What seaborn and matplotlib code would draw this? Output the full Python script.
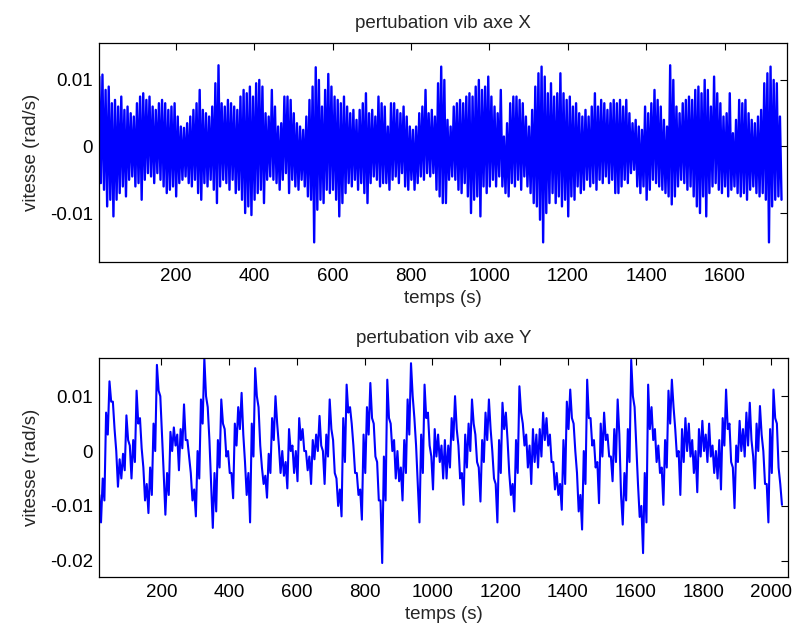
import numpy as np
import pandas as pd
import seaborn as sns
import matplotlib.pyplot as plt

# values, in mrad/s
# axe X : one peak (hi) then one trough (lo) every 8 s, starting at t = 5 s
t0_x, dt_x = 5, 8
vib_x_hi = [10.5, 10.8, 8.5, 9, 6.5, 7, 6, 7.5, 5.5, 6,
            5, 4.5, 6.5, 7.5, 8, 7, 7.5, 6, 5.5, 6.5,
            7, 6.5, 5.5, 6, 6.5, 4.5, 3, 2.8, 3.5, 4.5,
            5.5, 6.5, 8.5, 5.5, 5, 4.5, 6, 9.5, 12.2, 6.5,
            6, 7, 6.5, 6, 5.5, 7.5, 8.5, 8, 9, 7.5,
            9.5, 10, 9, 5, 4.5, 8.5, 6, 3, 3.5, 7.5,
            7.5, 7, 5, 3.5, 3, 2.5, 4.5, 7, 9, 11.9,
            10, 6, 8.5, 10.9, 9, 7.5, 7, 6.5, 7.5, 6,
            5, 5.5, 4, 5.5, 6.5, 8, 5, 5.5, 4.5, 7.5,
            6.5, 6, 3, 6.5, 6.5, 5.5, 5, 6, 4.5, 3,
            2.5, 3, 5, 6, 8.5, 5, 5.5, 4.5, 9.5, 12,
            10, 4, 3, 6, 6.5, 7, 6.5, 7.5, 8, 7.5,
            9, 10, 8.5, 9, 10.5, 7.5, 6, 5, 8.5, 1.5,
            3.5, 6.5, 7.5, 7.5, 7, 6.5, 4.5, 3, 5.5, 9,
            11, 12, 10.5, 8, 9.5, 7.5, 8, 11, 8, 7,
            7.5, 6, 6.5, 5, 4.5, 5.5, 4.5, 6, 8, 6,
            7, 6.5, 5.5, 6.5, 7, 6.5, 7, 6, 7, 5,
            3.5, 4, 3, 2.5, 6, 5, 6.5, 8.5, 7, 6,
            4, 3, 12.2, 10, 6, 5, 6.5, 7, 7.5, 7,
            8.5, 9, 8, 10, 8.5, 6, 10.5, 8, 6.5, 4.5,
            5, 8, 2, 4, 7, 6.5, 7, 5, 4, 3.5,
            4.5, 5.5, 9.5, 11, 12, 10, 9.5, 4.5]
vib_x_lo = [-5.5, -6.5, -9, -8, -10.5, -8, -7, -6, -7.5, -5,
            -4.5, -6, -5.5, -8, -5, -4, -4.5, -5.5, -4, -5,
            -6, -7, -6.5, -6, -7.5, -5.5, -5, -4.5, -5.5, -6,
            -5, -7, -8, -5.5, -6, -5, -6.5, -8.5, -6, -5,
            -5.5, -6.5, -5, -7, -6.5, -8, -10, -9, -10.3, -8,
            -7, -6.5, -8.5, -5, -4.5, -5, -5.5, -6.5, -5, -4,
            -7, -5, -6, -6.5, -5, -6, -7.5, -8, -14.4, -9.5,
            -8, -8.5, -6.5, -7, -6.5, -8, -10.5, -8.5, -7, -5.5,
            -6, -5, -6.5, -5.5, -7, -8.5, -5.5, -4.5, -5, -6,
            -5.5, -5.5, -6.5, -5, -4.5, -5.5, -4, -6, -6.5, -5,
            -6.5, -5.5, -4.5, -5, -4, -4.5, -4, -6.5, -7.5, -8.5,
            -8.5, -5, -4.5, -5, -6.5, -7, -5.5, -7.5, -10, -8,
            -7.5, -10.5, -6, -7, -6, -5, -6, -4.5, -6, -7,
            -7.5, -5.5, -6, -5, -6.5, -4.5, -6, -7, -8.5, -9,
            -11, -14.4, -10, -8.5, -7, -8.5, -7.5, -9, -8, -10.5,
            -7.5, -8, -6, -7, -6.5, -5, -6, -5.5, -6.5, -5,
            -5.5, -4.5, -5.5, -5, -7, -7, -6, -5, -5.5, -4,
            -3.5, -6, -7, -6, -8, -6.5, -5, -5.5, -6, -6.5,
            -7, -7.5, -8.7, -7.5, -6, -5, -5.5, -6.5, -6, -7.5,
            -9, -10, -7.5, -10.5, -7, -6, -5.5, -6.5, -7, -6,
            -7.5, -6.5, -6, -7, -7.5, -7, -8, -6.5, -6, -7,
            -7.5, -7, -8, -14.4, -9, -8, -7.5, -8]

# axe Y : one high then one low value every 10 s, starting at t = 17 s
t0_y, dt_y = 17, 10
vib_y_hi = [-8, -5, 7, 12.7, 9, 0, -1.5, -0.5, 6.5, 1,
            2, 11, 6, -3, -6, -3, 5, 15.7, 10, -4,
            -4, 3.5, 4.3, 3, 4, 8.5, 2, -4, -7, 0,
            9.4, 16.9, 8, -6, -4, 2, 9.4, 4, 0, -4,
            5, 8, 10.6, -2, -4, 5, 15.1, 8, -3, -4.5,
            -0.5, 6, 10, 1, 0, -2, 4, 1, 0, 6,
            4, 0, -1, 2, 3, 6.4, 0, 3, 9.4, 2,
            -5, -7, 6, 12.1, 8, 1, -4, -7, 3, 8,
            12.4, 5, -2, -9, -1, 13, 5, 2, 0, -3,
            2, 9.4, 16, 6, -6, 3, 12.1, 7, -1, 4,
            3, 1, 2, 1, 6, 10, 1, -4, 3, 5,
            9.4, 3, -3, 2, 7, 9.4, 0, -6, 2, 8.8,
            7, -4, -6, 2, 11.8, 5, 3, 1, 4, 3,
            4, 7, 6, 3, -2, -4, -6, 2, 9, 11.2,
            5, -4, -8, 0, 13, 6, 2, -2, 5, 7,
            3, -1, 4, 9.4, -8, -4, 4, 16.6, 8, -6,
            -10, -4, 12.1, 8, 4, 1, -3, 2, 11, 13,
            4, 0, 4, 6, 5, 2, 0, 4, 5.5, 3,
            5, 1, 0, 2, 6, 11.2, 5, -3, 1, 5.5,
            4, 7, 8.8, -1, 5, 8.2, 0, -6, 4, 11.2,
            5, -6]
vib_y_lo = [-13, -9, 3, 9, 4, -6.5, -5, -3.5, 2, -5,
            -2, 5, 0.5, -9, -11.3, -8, 0, 11, 3, -11.6,
            -8, 0, 1, -3.5, 0.5, 2, -1, -9, -11.9, -5,
            5, 10, 2, -14, -11, -3, 5, -1, -4, -8.6,
            1, 4, 3, -8, -13, -1, 10, 1, -6, -8.5,
            -4, 2, 5, -4, -4.5, -6.8, 0, -4, -5.5, 2,
            0, -3.5, -6, -1.5, 0, 1, -6, -1, 4, -4,
            -10, -11.9, -2, 7, 5, -4, -8, -12.5, -4, 3,
            6, -1, -9, -20.4, -9, 6, 0, -5, -5.5, -9,
            -4, 3, 10, 1, -13, -4, 6, 1, -7, -1,
            -2, -5, -5, -3, 2, 4, -5, -9.8, -3, 0,
            5, -2, -9.2, -2, 2, 4, -5, -13, -4, 4,
            2, -8, -11, -4, 7, 1, -3, -6, -2, -3,
            -1, 2, 1, -2, -7, -8, -10.7, -6, 4, 6,
            0, -11, -14.3, -6, 6, 1, -3, -9.5, -1, 2,
            -1, -5.5, -2, 3, -13.4, -9, -2, 10, 1, -12,
            -18.6, -13, 4, 2, -2, -4, -9.8, -3, 5, 8,
            -1, -8, -2, 0, -1, -4, -7.5, -1, 0, -2,
            -1, -4, -5, -7, 1, 4, -2, -10.4, -2, 0,
            -1, 1, 2, -6.8, 0, 3, -6, -13, -4, 6,
            -3, -9.8]

titles = ['pertubation vib axe X', 'pertubation vib axe Y']
x_ticks_top = [200, 400, 600, 800, 1000, 1200, 1400, 1600]
x_ticks_bot = [200, 400, 600, 800, 1000, 1200, 1400, 1600, 1800, 2000]
y_ticks_top = [0.01, 0, -0.01]
y_labels_top = ['0.01', '0', '-0.01']
y_ticks_bot = [0.01, 0, -0.01, -0.02]
y_labels_bot = ['0.01', '0', '-0.01', '-0.02']


def to_frame(hi, lo, t0, dt):
    # put peaks and troughs back in time order
    v = np.empty(2 * len(hi))
    v[0::2] = hi
    v[1::2] = lo
    t = t0 + np.arange(len(v)) * dt / 2
    return pd.DataFrame({'temps': t, 'vitesse': v / 1000})


df_x = to_frame(vib_x_hi, vib_x_lo, t0_x, dt_x)
df_y = to_frame(vib_y_hi, vib_y_lo, t0_y, dt_y)

sns.set_style('white')
plt.rcParams['font.family'] = ['Liberation Sans', 'DejaVu Sans']

fig = plt.figure(figsize=(7.92, 6.33), dpi=100)
ax1 = fig.add_axes([0.1254, 0.5866, 0.8683, 0.345])
ax2 = fig.add_axes([0.1254, 0.0880, 0.8692, 0.346])

setup = [
    (ax1, df_x, titles[0], x_ticks_top, y_ticks_top, y_labels_top, (5, 1759), (-0.0173, 0.0155), 1.7),
    (ax2, df_y, titles[1], x_ticks_bot, y_ticks_bot, y_labels_bot, (17, 2049), (-0.0230, 0.0169), 1.5),
]

for ax, df, title, xt, yt, yl, xlim, ylim, lw in setup:
    sns.lineplot(data=df, x='temps', y='vitesse', ax=ax, color='#0000ff',
                 lw=lw, estimator=None, sort=False)
    ax.set_xlim(*xlim)
    ax.set_ylim(*ylim)
    ax.set_xticks(xt)
    ax.set_xticklabels([str(v) for v in xt])
    ax.set_yticks(yt)
    ax.set_yticklabels(yl)
    ax.set_title(title, fontsize=13.5, pad=11)
    ax.set_xlabel('temps (s)', fontsize=13.5, labelpad=4)
    ax.set_ylabel('vitesse (rad/s)', fontsize=13.5, labelpad=7)
    ax.tick_params(direction='in', top=True, right=True, length=5, width=0.8,
                   labelsize=13.5, pad=4.5, colors='black')
    for s in ax.spines.values():
        s.set_visible(True)
        s.set_color('black')
        s.set_linewidth(0.9)

fig.savefig('out.png', dpi=100)
